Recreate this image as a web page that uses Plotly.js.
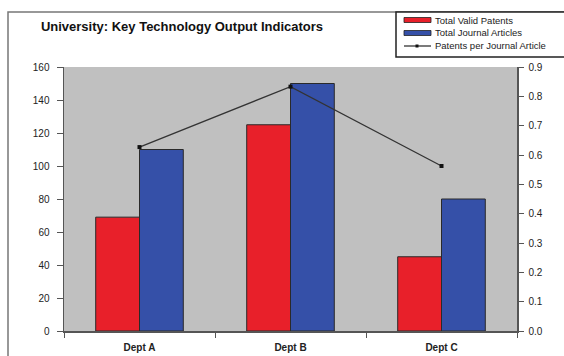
<!DOCTYPE html>
<html>
<head>
<meta charset="utf-8">
<script src="https://cdn.plot.ly/plotly-3.0.1.min.js"></script>
<style>html,body{margin:0;padding:0;background:#fff;}#chart{width:564px;height:356px;}</style>
</head>
<body>
<div id="chart"></div>
<script>
// ---- Data ----
const categories = ["Dept A", "Dept B", "Dept C"];
const seriesNames = ["Total Valid Patents", "Total Journal Articles", "Patents per Journal Article"];
const validPatents = [69, 125, 45];
const journalArticles = [110, 150, 80];
const patentsPerArticle = [0.627, 0.833, 0.5625];
const leftTicks = [0, 20, 40, 60, 80, 100, 120, 140, 160];
const rightTicks = [0, 0.1, 0.2, 0.3, 0.4, 0.5, 0.6, 0.7, 0.8, 0.9];

// ---- Layout geometry (pixels) ----
const W = 564, H = 356;
const M = {l: 64, r: 47, t: 67, b: 25};
const plotW = W - M.l - M.r, plotH = H - M.t - M.b;
const px = x => (x - M.l) / plotW;
const py = y => (H - M.b - y) / plotH;

const colors = ["#e8202a", "#3550a8", "#2a2a2a"];
const font = "Liberation Sans, Arial, sans-serif";

const traces = [
  {type: "bar", name: seriesNames[0], x: categories, y: validPatents,
   marker: {color: colors[0], line: {color: "#2a2a2a", width: 1}}, showlegend: false, yaxis: "y"},
  {type: "bar", name: seriesNames[1], x: categories, y: journalArticles,
   marker: {color: colors[1], line: {color: "#2a2a2a", width: 1}}, showlegend: false, yaxis: "y"},
  {type: "scatter", mode: "lines+markers", name: seriesNames[2], x: categories, y: patentsPerArticle,
   line: {color: "#333", width: 1.3}, marker: {symbol: "square", size: 4, color: "#111"},
   showlegend: false, yaxis: "y2"}
];

// Legend drawn as a boxed key
const shapes = [
  {type: "rect", xref: "paper", yref: "paper", x0: px(8), x1: px(640), y0: py(420), y1: py(12),
   line: {color: "#777", width: 1.5}, fillcolor: "rgba(0,0,0,0)", layer: "below"},
  {type: "rect", xref: "paper", yref: "paper", x0: px(396), x1: px(640), y0: py(57), y1: py(12),
   line: {color: "#222", width: 1.5}, fillcolor: "#fff"}
];
const annotations = [];
const rowY = [20, 33, 46];
for (let i = 0; i < 3; i++) {
  if (i < 2) {
    shapes.push({type: "rect", xref: "paper", yref: "paper", x0: px(404), x1: px(431),
      y0: py(rowY[i] + 2.5), y1: py(rowY[i] - 2.5), fillcolor: colors[i], line: {color: "#222", width: 0.8}});
  } else {
    shapes.push({type: "line", xref: "paper", yref: "paper", x0: px(404), x1: px(431),
      y0: py(rowY[i]), y1: py(rowY[i]), line: {color: "#333", width: 1.3}});
    shapes.push({type: "rect", xref: "paper", yref: "paper", x0: px(415.5), x1: px(418.5),
      y0: py(rowY[i] + 1.5), y1: py(rowY[i] - 1.5), fillcolor: "#111", line: {width: 0}});
  }
  annotations.push({xref: "paper", yref: "paper", x: px(433), y: py(rowY[i]), xanchor: "left", yanchor: "middle",
    text: seriesNames[i], showarrow: false, font: {family: font, size: 9.5, color: "#222"}});
}

const layout = {
  width: W, height: H,
  margin: M,
  paper_bgcolor: "#fff",
  plot_bgcolor: "#c0c0c0",
  font: {family: font, size: 10, color: "#222"},
  title: {text: "<b>University: Key Technology Output Indicators</b>", xref: "container", yref: "container",
    x: 182 / W, y: 1 - 26 / H, xanchor: "center", yanchor: "middle",
    font: {family: font, size: 13, color: "#111"}},
  barmode: "group",
  bargap: 0.42,
  bargroupgap: 0,
  showlegend: false,
  xaxis: {type: "category", range: [-0.5, 2.5], showline: true, linecolor: "#555", linewidth: 1.5,
    ticks: "outside", tickson: "boundaries", ticklen: 5, tickcolor: "#555", showgrid: false,
    ticklabelstandoff: 6,
    tickfont: {family: font, size: 10, color: "#222", weight: "bold"}, fixedrange: true},
  yaxis: {range: [0, 160], tickvals: leftTicks, showline: true, linecolor: "#555", linewidth: 1.5,
    ticks: "outside", ticklen: 6, tickcolor: "#555", showgrid: false, zeroline: false,
    ticklabelstandoff: 5,
    tickfont: {family: font, size: 10, color: "#222"}},
  yaxis2: {range: [0, 0.9], tickvals: rightTicks, tickformat: ".1f", overlaying: "y", side: "right",
    showline: true, linecolor: "#555", linewidth: 1.5, ticks: "outside", ticklen: 5, tickcolor: "#555",
    ticklabelstandoff: 3,
    showgrid: false, zeroline: false, tickfont: {family: font, size: 10, color: "#222"}},
  shapes: shapes,
  annotations: annotations
};

Plotly.newPlot("chart", traces, layout, {displayModeBar: false, staticPlot: true});
</script>
</body>
</html>
